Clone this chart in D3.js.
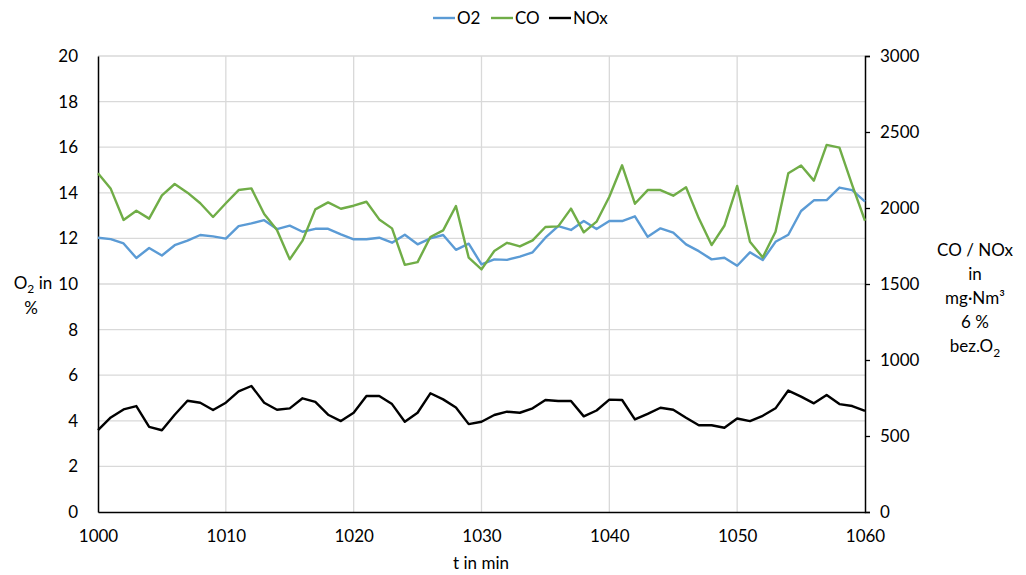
<!DOCTYPE html>
<html>
<head>
<meta charset="utf-8">
<script src="https://cdn.jsdelivr.net/npm/d3@7"></script>
<style>
  body { margin: 0; background: #fff; }
  svg text { font-family: Lato, "Open Sans", sans-serif; fill: #000; }
</style>
</head>
<body>
<svg id="chart" width="1026" height="575"></svg>
<script>
// minutes 1000..1060
const minutes = d3.range(1000, 1061);

const o2 = [
  12.03, 11.97, 11.78, 11.14, 11.58, 11.25, 11.7, 11.9, 12.15, 12.09,
  11.99, 12.54, 12.66, 12.8, 12.41, 12.56, 12.29, 12.42, 12.42, 12.18,
  11.96, 11.96, 12.03, 11.81, 12.16, 11.74, 12.0, 12.15, 11.5, 11.77,
  10.86, 11.08, 11.06, 11.2, 11.39, 12.03, 12.54, 12.37, 12.76, 12.41,
  12.76, 12.76, 12.97, 12.07, 12.44, 12.25, 11.74, 11.44, 11.08, 11.15,
  10.8, 11.39, 11.05, 11.85, 12.16, 13.2, 13.67, 13.68, 14.23, 14.12,
  13.61
];

const co = [
  2228, 2126, 1921, 1982, 1930, 2083, 2158, 2101, 2031, 1941,
  2031, 2118, 2129, 1960, 1855, 1662, 1785, 1991, 2037, 1995,
  2015, 2041, 1925, 1866, 1626, 1644, 1809, 1853, 2013, 1673,
  1596, 1717, 1771, 1747, 1787, 1875, 1879, 1996, 1840, 1910,
  2074, 2281, 2028, 2118, 2118, 2081, 2136, 1932, 1756, 1883,
  2145, 1778, 1675, 1844, 2228, 2279, 2180, 2415, 2397, 2151,
  1916
];

const nox = [
  538, 622, 675, 697, 560, 538, 640, 732, 719, 671,
  719, 794, 829, 719, 673, 682, 748, 724, 640, 598,
  653, 763, 763, 710, 594, 653, 781, 741, 688, 578,
  594, 638, 660, 653, 682, 737, 730, 730, 629, 668,
  739, 737, 609, 646, 686, 673, 620, 571, 571, 554,
  615, 598, 633, 682, 799, 759, 715, 770, 710, 697,
  666
];

const xTicks = [1000, 1010, 1020, 1030, 1040, 1050, 1060];
const leftTicks = [0, 2, 4, 6, 8, 10, 12, 14, 16, 18, 20];
const rightTicks = [0, 500, 1000, 1500, 2000, 2500, 3000];

const seriesNames = ["O2", "CO", "NOx"];
const colors = ["#5B9BD5", "#70AD47", "#000000"];

const margin = { left: 98, right: 161, top: 56, bottom: 63 };
const W = 1026, H = 575;

const svg = d3.select("#chart");

const x = d3.scaleLinear().domain([1000, 1060]).range([margin.left, W - margin.right]);
const yL = d3.scaleLinear().domain([0, 20]).range([H - margin.bottom, margin.top]);
const yR = d3.scaleLinear().domain([0, 3000]).range([H - margin.bottom, margin.top]);

// grid
const grid = svg.append("g").attr("class", "grid");
grid.selectAll("line.h")
  .data(leftTicks.slice(1))
  .join("line")
  .attr("x1", x(1000)).attr("x2", x(1060))
  .attr("y1", d => yL(d)).attr("y2", d => yL(d))
  .attr("stroke", "#d9d9d9").attr("stroke-width", 1.3);
grid.selectAll("line.v")
  .data(xTicks.slice(1, -1))
  .join("line")
  .attr("x1", d => x(d)).attr("x2", d => x(d))
  .attr("y1", yL(0)).attr("y2", yL(20))
  .attr("stroke", "#d9d9d9").attr("stroke-width", 1.3);

// axes
const axL = svg.append("g")
  .attr("transform", `translate(${margin.left},0)`)
  .call(d3.axisLeft(yL).tickValues(leftTicks).tickSize(0).tickPadding(20));
const axR = svg.append("g")
  .attr("transform", `translate(${W - margin.right},0)`)
  .call(d3.axisRight(yR).tickValues(rightTicks).tickFormat(d3.format("d")).tickSize(5).tickPadding(10));
const axB = svg.append("g")
  .attr("transform", `translate(0,${H - margin.bottom})`)
  .call(d3.axisBottom(x).tickValues(xTicks).tickFormat(d3.format("d")).tickSize(0).tickPadding(18));

[axL, axR, axB].forEach(a => {
  a.select(".domain").attr("stroke", "#000").attr("stroke-width", 1.5);
  a.selectAll(".tick line").attr("stroke", "#000").attr("stroke-width", 1.3);
  a.selectAll("text").style("font-size", "17px").attr("fill", "#000");
});

// lines
const lineL = d3.line().x((d, i) => x(minutes[i])).y(d => yL(d));
const lineR = d3.line().x((d, i) => x(minutes[i])).y(d => yR(d));

svg.append("path").datum(o2)
  .attr("d", lineL).attr("fill", "none")
  .attr("stroke", colors[0]).attr("stroke-width", 2.4).attr("stroke-linejoin", "round");
svg.append("path").datum(co)
  .attr("d", lineR).attr("fill", "none")
  .attr("stroke", colors[1]).attr("stroke-width", 2.4).attr("stroke-linejoin", "round");
svg.append("path").datum(nox)
  .attr("d", lineR).attr("fill", "none")
  .attr("stroke", colors[2]).attr("stroke-width", 2.4).attr("stroke-linejoin", "round");

// legend
const legendX = [433, 491, 549];
const legend = svg.append("g");
seriesNames.forEach((name, i) => {
  legend.append("line")
    .attr("x1", legendX[i]).attr("x2", legendX[i] + 22)
    .attr("y1", 18).attr("y2", 18)
    .attr("stroke", colors[i]).attr("stroke-width", 2.4);
  legend.append("text")
    .attr("x", legendX[i] + 24).attr("y", 24)
    .style("font-size", "17px")
    .text(name);
});

// axis titles
svg.append("text")
  .attr("x", 481).attr("y", 569)
  .attr("text-anchor", "middle")
  .style("font-size", "17px")
  .text("t in min");

const lt1 = svg.append("text")
  .attr("x", 33).attr("y", 289)
  .attr("text-anchor", "middle")
  .style("font-size", "17px");
lt1.append("tspan").text("O");
lt1.append("tspan").attr("dy", 4).style("font-size", "12px").text("2");
lt1.append("tspan").attr("dy", -4).text(" in");
svg.append("text")
  .attr("x", 31).attr("y", 314)
  .attr("text-anchor", "middle")
  .style("font-size", "17px")
  .text("%");

const rtLines = ["CO / NOx", "in", "mg·Nm³", "6 %"];
const rt = svg.append("text")
  .attr("text-anchor", "middle")
  .style("font-size", "17px");
rtLines.forEach((t, i) => {
  rt.append("tspan").attr("x", 975).attr("y", 256 + i * 24).text(t);
});
const last = rt.append("tspan").attr("x", 975).attr("y", 256 + 4 * 24);
last.append("tspan").text("bez.O");
last.append("tspan").attr("dy", 5).style("font-size", "12px").text("2");
</script>
</body>
</html>
